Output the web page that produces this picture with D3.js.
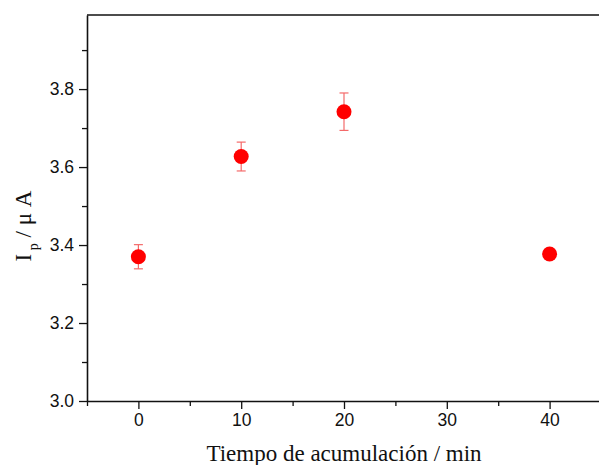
<!DOCTYPE html>
<html>
<head>
<meta charset="utf-8">
<script src="https://cdn.jsdelivr.net/npm/d3@7"></script>
<style>
  body { margin: 0; background: #fff; }
  svg { display: block; }
</style>
</head>
<body>
<div id="chart"></div>
<script>
const width = 599
const height = 465

// data
const times = [0, 10, 20, 40]
const currents = [3.370, 3.627, 3.742, 3.377]
const errors = [0.031, 0.037, 0.048, 0]

const xTicks = [0, 10, 20, 30, 40]
const xMinor = [-5, 5, 15, 25, 35, 45]
const yTicks = [3.0, 3.2, 3.4, 3.6, 3.8]
const yMinor = [3.1, 3.3, 3.5, 3.7, 3.9]

const frame = { left: 87, top: 15, right: 601, bottom: 401 }

let svg = d3.select('#chart').append('svg')
    .attr('width', width)
    .attr('height', height)

let xScale = d3.scaleLinear().domain([-5, 45]).range([frame.left, frame.right])
let yScale = d3.scaleLinear().domain([3.0, 3.99]).range([frame.bottom, frame.top])

// top border line
svg.append('line')
    .attr('x1', frame.left).attr('x2', frame.right)
    .attr('y1', frame.top).attr('y2', frame.top)
    .attr('stroke', '#111').attr('stroke-width', 1.6)

// axes
let xAxisG = svg.append('g').attr('transform', `translate(0,${frame.bottom})`)
xAxisG.call(d3.axisBottom(xScale).tickValues(xTicks).tickSize(8).tickSizeOuter(0).tickPadding(5).tickFormat(d3.format('d')))
let xMinorG = svg.append('g').attr('transform', `translate(0,${frame.bottom})`)
xMinorG.call(d3.axisBottom(xScale).tickValues(xMinor).tickSize(5).tickSizeOuter(0).tickFormat(''))
xMinorG.select('.domain').remove()

let yAxisG = svg.append('g').attr('transform', `translate(${frame.left},0)`)
yAxisG.call(d3.axisLeft(yScale).tickValues(yTicks).tickSize(8).tickSizeOuter(0).tickPadding(5).tickFormat(d3.format('.1f')))
let yMinorG = svg.append('g').attr('transform', `translate(${frame.left},0)`)
yMinorG.call(d3.axisLeft(yScale).tickValues(yMinor).tickSize(5).tickSizeOuter(0).tickFormat(''))
yMinorG.select('.domain').remove()

svg.selectAll('.domain').attr('stroke', '#111').attr('stroke-width', 1.6)
svg.selectAll('.tick line').attr('stroke', '#111').attr('stroke-width', 1.3)
svg.selectAll('.tick text')
    .attr('fill', '#111')
    .attr('font-family', 'Liberation Sans, Arial, sans-serif')
    .attr('font-size', '17.5px')

// error bars
let pts = times.map((t, i) => ({ t: t, v: currents[i], e: errors[i] }))
let bars = svg.append('g').selectAll('g')
    .data(pts.filter(d => d.e > 0))
    .join('g')
    .attr('stroke', '#f46a6a')
    .attr('stroke-width', 1.2)
bars.append('line')
    .attr('x1', d => xScale(d.t)).attr('x2', d => xScale(d.t))
    .attr('y1', d => yScale(d.v - d.e)).attr('y2', d => yScale(d.v + d.e))
bars.append('line')
    .attr('x1', d => xScale(d.t) - 4.5).attr('x2', d => xScale(d.t) + 4.5)
    .attr('y1', d => yScale(d.v + d.e)).attr('y2', d => yScale(d.v + d.e))
bars.append('line')
    .attr('x1', d => xScale(d.t) - 4.5).attr('x2', d => xScale(d.t) + 4.5)
    .attr('y1', d => yScale(d.v - d.e)).attr('y2', d => yScale(d.v - d.e))

// points
svg.append('g').selectAll('circle')
    .data(pts)
    .join('circle')
    .attr('cx', d => xScale(d.t))
    .attr('cy', d => yScale(d.v))
    .attr('r', 7.5)
    .attr('fill', '#ff0000')

// axis titles
svg.append('text')
    .attr('x', 344)
    .attr('y', 461)
    .attr('text-anchor', 'middle')
    .attr('font-family', 'Liberation Serif, Times New Roman, serif')
    .attr('font-size', '23px')
    .attr('fill', '#111')
    .text('Tiempo de acumulación / min')

let yTitle = svg.append('text')
    .attr('transform', 'translate(31,226) rotate(-90)')
    .attr('text-anchor', 'middle')
    .attr('font-family', 'Liberation Serif, Times New Roman, serif')
    .attr('font-size', '23px')
    .attr('fill', '#111')
yTitle.append('tspan').text('I')
yTitle.append('tspan').attr('dy', 7).attr('font-size', '14px').text(' p')
yTitle.append('tspan').attr('dy', -7).text(' / μ A')
</script>
</body>
</html>
